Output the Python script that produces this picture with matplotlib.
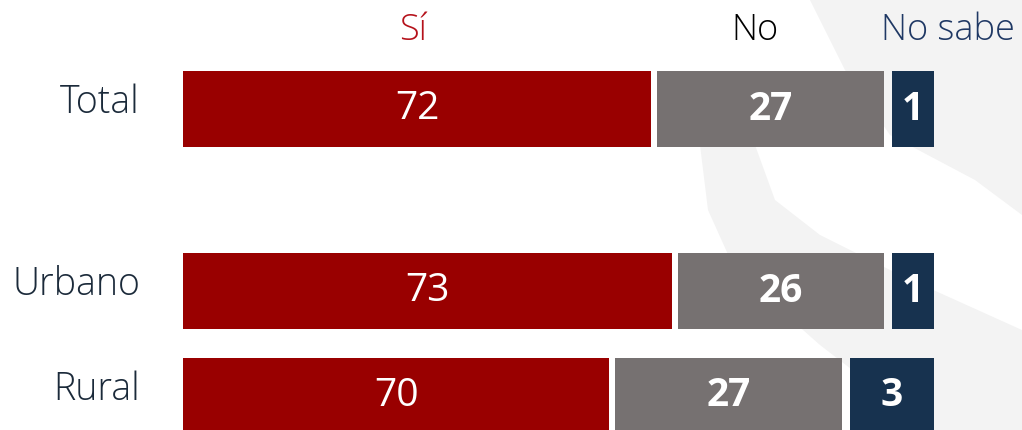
import numpy as np
import matplotlib.pyplot as plt
from matplotlib.patches import Polygon

plt.rcParams['font.family'] = ['Open Sans', 'DejaVu Sans']

# datos
categorias = ['Total', 'Urbano', 'Rural']
si = [72, 73, 70]
no = [27, 26, 27]
no_sabe = [1, 1, 3]
series = ['Sí', 'No', 'No sabe']

col_si = '#990000'
col_no = '#767171'
col_ns = '#17324f'

# el gráfico original recorta cada segmento (eje que no empieza en cero)
base = {'si': 49.7, 'no': 16.15, 'ns': -1.0}
y_pos = [109, 291, 396]   # centro de cada barra (px)
alto = 76
gap1, gap2 = 0.25, 0.35

fig = plt.figure(figsize=(10.22, 4.3), dpi=100)
ax = fig.add_axes([0, 0, 1, 1])
escala = 21.0   # px por unidad
x0 = 183
ax.set_xlim(-x0 / escala, (1022 - x0) / escala)
ax.set_ylim(430, 0)
ax.axis('off')


def px(x):
    return (x - x0) / escala


# marca de agua de fondo
fondo1 = [(700, 145), (755, 145), (775, 200), (820, 235), (900, 275), (1022, 330),
          (1022, 430), (930, 430), (820, 345), (735, 270), (708, 210)]
fondo2 = [(810, 0), (1022, 0), (1022, 215), (975, 180), (890, 135), (845, 70)]
for f in (fondo1, fondo2):
    ax.add_patch(Polygon([(px(a), b) for a, b in f], closed=True,
                         color='#f3f3f3', lw=0, zorder=0))

for i, cat in enumerate(categorias):
    y = y_pos[i]
    w_si = si[i] - base['si']
    w_no = no[i] - base['no']
    w_ns = no_sabe[i] - base['ns']
    ax.barh(y, w_si, height=alto, left=0, color=col_si, zorder=2)
    l_no = w_si + gap1
    ax.barh(y, w_no, height=alto, left=l_no, color=col_no, zorder=2)
    l_ns = l_no + w_no + gap2
    ax.barh(y, w_ns, height=alto, left=l_ns, color=col_ns, zorder=2)
    ax.text(w_si / 2, y, str(si[i]), color='white', fontsize=28,
            ha='center', va='center', zorder=3)
    ax.text(l_no + w_no / 2, y, str(no[i]), color='white', fontsize=28,
            fontweight='bold', ha='center', va='center', zorder=3)
    ax.text(l_ns + w_ns / 2, y, str(no_sabe[i]), color='white', fontsize=28,
            fontweight='bold', ha='center', va='center', zorder=3)
    ax.text(px(140), y - 6, cat, color='#1b2a3a', fontsize=27, fontweight='light',
            ha='right', va='center', zorder=3)

# encabezados
ax.text(413 / 1022, 1 - 30 / 430, series[0], transform=ax.transAxes, color='#b5121b',
        fontsize=26, fontweight='light', ha='center', va='center')
ax.text(755 / 1022, 1 - 30 / 430, series[1], transform=ax.transAxes, color='black',
        fontsize=26, fontweight='light', ha='center', va='center')
ax.text(948 / 1022, 1 - 30 / 430, series[2], transform=ax.transAxes, color='#1f3864',
        fontsize=26, fontweight='light', ha='center', va='center')

plt.savefig('out.png', dpi=100)
